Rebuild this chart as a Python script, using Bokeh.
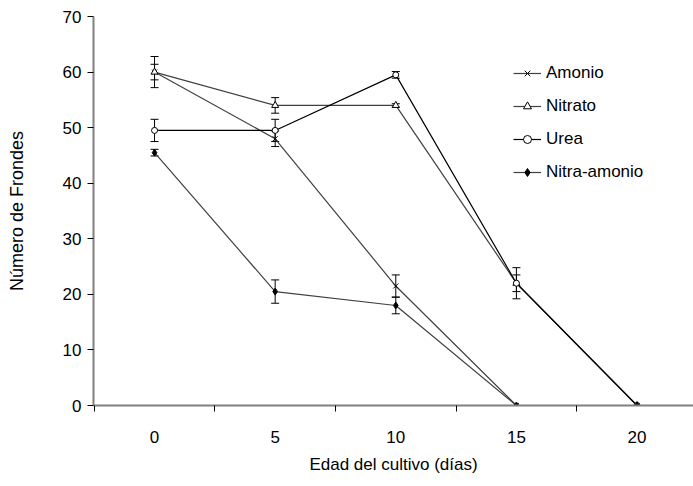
from bokeh.plotting import figure
from bokeh.models import FixedTicker, Whisker, TeeHead, ColumnDataSource, Legend, LegendItem
from bokeh.embed import file_html
from bokeh.resources import INLINE

dias = [0, 5, 10, 15, 20]
amonio = [60, 48, 21.5, 0, 0]
amonio_err = [2.8, 1.4, 2.0, 0, 0]
nitrato = [60, 54, 54, 22, 0]
nitrato_err = [1.4, 1.4, 0.3, 2.8, 0]
urea = [49.5, 49.5, 59.5, 22, 0]
urea_err = [2.0, 2.0, 0.6, 1.5, 0]
nitra_amonio = [45.5, 20.5, 18, 0, 0]
nitra_amonio_err = [0.6, 2.1, 1.5, 0, 0]

FONT = "Liberation Sans"

p = figure(width=693, height=486, output_backend="svg", toolbar_location=None,
           x_range=(-2.53, 22.34), y_range=(0, 70),
           min_border_left=93, min_border_right=0, min_border_top=16, min_border_bottom=81)
p.outline_line_color = None
p.grid.grid_line_color = None
p.background_fill_color = "white"

series = [
    ("Amonio", amonio, amonio_err, "x", "#404040", 7),
    ("Nitrato", nitrato, nitrato_err, "triangle", "#404040", 7),
    ("Urea", urea, urea_err, "circle", "black", 6),
    ("Nitra-amonio", nitra_amonio, nitra_amonio_err, "diamond", "#404040", 7),
]

items = []
for name, vals, errs, marker, col, size in series:
    src = ColumnDataSource(dict(x=dias, y=vals,
                                lo=[v - e for v, e in zip(vals, errs)],
                                hi=[v + e for v, e in zip(vals, errs)]))
    ln = p.line("x", "y", source=src, line_color=col, line_width=1.2)
    fill = "black" if marker == "diamond" else "white"
    if marker == "x":
        fill = None
    sc = p.scatter("x", "y", source=src, marker=marker, size=size, line_color="black",
                   fill_color=fill, line_width=1)
    w = Whisker(source=src, base="x", lower="lo", upper="hi", line_color="black", line_width=1,
                upper_head=TeeHead(size=8, line_color="black", line_width=1),
                lower_head=TeeHead(size=8, line_color="black", line_width=1))
    p.add_layout(w)
    items.append(LegendItem(label=name, renderers=[ln, sc]))

legend = Legend(items=items, location=(420, 223), glyph_width=28, glyph_height=20,
                label_height=20, spacing=13, padding=0, margin=0, label_standoff=5,
                border_line_color=None, background_fill_alpha=0,
                label_text_font=FONT, label_text_font_size="17px", label_text_color="black")
p.add_layout(legend)

xa = p.xaxis[0]
xa.ticker = FixedTicker(ticks=dias, minor_ticks=[-2.5, 2.5, 7.5, 12.5, 17.5, 22.5])
xa.major_tick_out = 0
xa.major_tick_in = 0
xa.minor_tick_out = 6
xa.minor_tick_in = 0
xa.minor_tick_line_color = "black"
xa.axis_line_color = "#808080"
xa.axis_line_width = 2
xa.major_label_standoff = 19
xa.axis_label = "Edad del cultivo (días)"
xa.axis_label_standoff = 9

ya = p.yaxis[0]
ya.ticker = FixedTicker(ticks=[0, 10, 20, 30, 40, 50, 60, 70])
ya.major_tick_out = 6
ya.major_tick_in = 0
ya.minor_tick_out = 0
ya.major_tick_line_color = "black"
ya.axis_line_color = "#808080"
ya.axis_line_width = 2
ya.major_label_standoff = 6
ya.axis_label = "Número de Frondes"
ya.axis_label_standoff = 33

for ax in (xa, ya):
    ax.major_label_text_font = FONT
    ax.major_label_text_font_size = "17px"
    ax.major_label_text_color = "black"
    ax.axis_label_text_font = FONT
    ax.axis_label_text_font_size = "17px"
    ax.axis_label_text_font_style = "normal"
    ax.axis_label_text_color = "black"
ya.axis_label_text_font_size = "18px"

open("out.html", "w").write(file_html(p, INLINE))
